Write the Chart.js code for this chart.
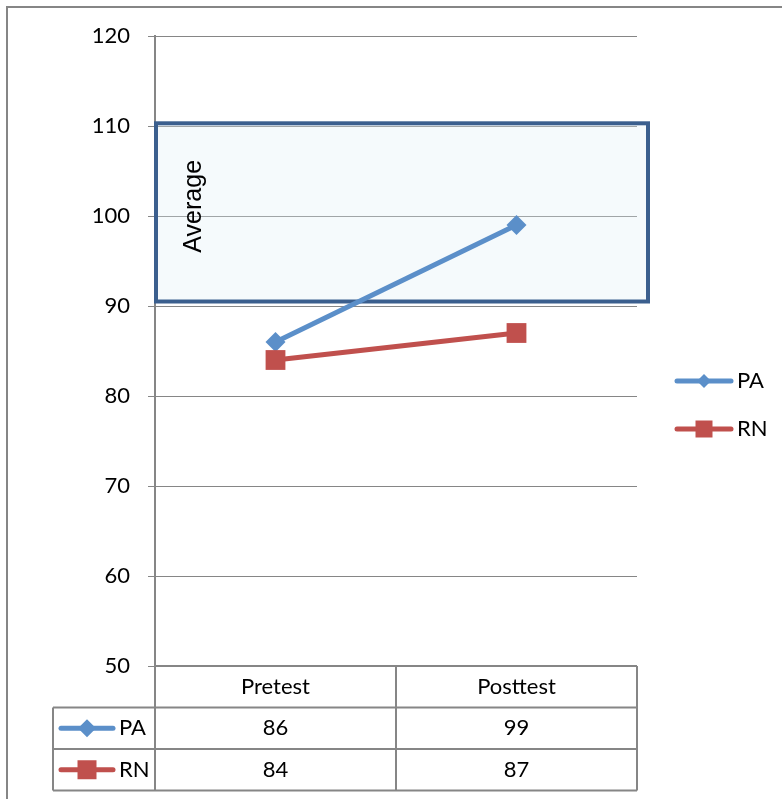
<!DOCTYPE html>
<html>
<head>
<meta charset="utf-8">
<script src="https://cdn.jsdelivr.net/npm/chart.js@4/dist/chart.umd.min.js"></script>
<style>
  html, body { margin: 0; padding: 0; background: #fff; }
  #wrap { width: 782px; height: 799px; }
</style>
</head>
<body>
<div id="wrap"><canvas id="grafico"></canvas></div>
<script>
// dados
const categorias = ['Pretest', 'Posttest'];
const series = ['PA', 'RN'];
const valoresPA = [86, 99];
const valoresRN = [84, 87];
const faixaMedia = [90.5, 110.3];   // caixa "Average"
const rotuloFaixa = 'Average';
const yMin = 50;
const yMax = 120;
const yPasso = 10;

const cores = {
  PA: '#5B8FC9',
  RN: '#C0504D',
  grade: '#868686',
  faixa: '#3B5F8E'
};
const fonteTexto = 'Lato, "Open Sans", sans-serif';

// desenha a chave (linha + marcador) da legenda e da tabela
function desenharChave(ctx, x0, x1, y, cor, estilo, tam) {
  ctx.save();
  ctx.strokeStyle = cor;
  ctx.fillStyle = cor;
  ctx.lineWidth = 5;
  ctx.lineCap = 'round';
  ctx.beginPath();
  ctx.moveTo(x0, y);
  ctx.lineTo(x1, y);
  ctx.stroke();
  const cx = (x0 + x1) / 2;
  ctx.beginPath();
  if (estilo === 'losango') {
    ctx.moveTo(cx, y - tam);
    ctx.lineTo(cx + tam, y);
    ctx.lineTo(cx, y + tam);
    ctx.lineTo(cx - tam, y);
    ctx.closePath();
  } else {
    ctx.rect(cx - tam / 2, y - tam / 2, tam, tam);
  }
  ctx.fill();
  ctx.restore();
}

// moldura cinza do gráfico
const moldura = {
  id: 'moldura',
  beforeDraw(chart) {
    const ctx = chart.ctx;
    ctx.save();
    ctx.strokeStyle = cores.grade;
    ctx.lineWidth = 2;
    ctx.beginPath();
    ctx.moveTo(7, chart.height);
    ctx.lineTo(7, 7);
    ctx.lineTo(chart.width, 7);
    ctx.stroke();
    ctx.restore();
  }
};

// caixa da faixa média
const caixaMedia = {
  id: 'caixaMedia',
  beforeDatasetsDraw(chart) {
    const ctx = chart.ctx;
    const y = chart.scales.y;
    const area = chart.chartArea;
    const topo = y.getPixelForValue(faixaMedia[1]);
    const base = y.getPixelForValue(faixaMedia[0]);
    const esq = area.left + 1;
    const dir = area.right + 11;
    ctx.save();
    ctx.fillStyle = 'rgba(222, 238, 246, 0.3)';
    ctx.fillRect(esq, topo, dir - esq, base - topo);
    ctx.strokeStyle = cores.faixa;
    ctx.lineWidth = 4;
    ctx.strokeRect(esq, topo, dir - esq, base - topo);
    ctx.translate(esq + 45, topo + 83);
    ctx.rotate(-Math.PI / 2);
    ctx.fillStyle = '#000';
    ctx.font = '25px "Liberation Sans", Arial, sans-serif';
    ctx.textAlign = 'center';
    ctx.textBaseline = 'alphabetic';
    ctx.fillText(rotuloFaixa, 0, 0);
    ctx.restore();
  }
};

// tabela de dados abaixo do eixo e legenda à direita
const tabelaDados = {
  id: 'tabelaDados',
  afterDraw(chart) {
    const ctx = chart.ctx;
    const x = chart.scales.x;
    const area = chart.chartArea;
    const alturaLinha = 41.5;
    const yCab = area.bottom;
    const yFim = yCab + alturaLinha * 3;
    const colChave = 53;
    const meio = (x.getPixelForValue(0) + x.getPixelForValue(1)) / 2;
    const valores = [valoresPA, valoresRN];
    const estilos = ['losango', 'quadrado'];

    ctx.save();
    ctx.strokeStyle = cores.grade;
    ctx.lineWidth = 2;
    ctx.beginPath();
    ctx.moveTo(area.left, yCab); ctx.lineTo(area.right, yCab);
    for (let i = 1; i <= 3; i++) {
      ctx.moveTo(colChave, yCab + alturaLinha * i);
      ctx.lineTo(area.right, yCab + alturaLinha * i);
    }
    ctx.moveTo(area.left, yCab); ctx.lineTo(area.left, yFim);
    ctx.moveTo(meio, yCab); ctx.lineTo(meio, yFim);
    ctx.moveTo(area.right, yCab); ctx.lineTo(area.right, yFim);
    ctx.moveTo(colChave, yCab + alturaLinha); ctx.lineTo(colChave, yFim);
    ctx.stroke();

    ctx.fillStyle = '#000';
    ctx.font = '22px ' + fonteTexto;
    ctx.textAlign = 'center';
    ctx.textBaseline = 'middle';
    categorias.forEach((c, i) => {
      ctx.fillText(c, x.getPixelForValue(i), yCab + alturaLinha / 2);
    });
    series.forEach((s, r) => {
      const yl = yCab + alturaLinha * (r + 1.5);
      valores[r].forEach((v, i) => {
        ctx.fillText(String(v), x.getPixelForValue(i), yl);
      });
    });
    ctx.textAlign = 'left';
    series.forEach((s, r) => {
      const yl = yCab + alturaLinha * (r + 1.5);
      desenharChave(ctx, 61, 113, yl, cores[s], estilos[r], estilos[r] === 'losango' ? 9 : 19);
      ctx.fillStyle = '#000';
      ctx.fillText(s, 119, yl);
    });

    // legenda
    const yLegenda = [381, 429];
    series.forEach((s, r) => {
      desenharChave(ctx, 677, 731, yLegenda[r], cores[s], estilos[r], estilos[r] === 'losango' ? 7 : 17);
      ctx.fillStyle = '#000';
      ctx.fillText(s, 737, yLegenda[r]);
    });
    ctx.restore();
  }
};

new Chart(document.getElementById('grafico'), {
  type: 'line',
  data: {
    labels: categorias,
    datasets: [
      {
        label: series[0],
        data: valoresPA,
        borderColor: cores.PA,
        backgroundColor: cores.PA,
        borderWidth: 5,
        pointStyle: 'rectRot',
        pointRadius: 10,
        pointBorderWidth: 0,
        order: 1
      },
      {
        label: series[1],
        data: valoresRN,
        borderColor: cores.RN,
        backgroundColor: cores.RN,
        borderWidth: 5,
        pointStyle: 'rect',
        pointRadius: 14,
        pointBorderWidth: 0,
        order: 0
      }
    ]
  },
  options: {
    responsive: true,
    maintainAspectRatio: false,
    animation: false,
    layout: {
      padding: { top: 36, right: 145, bottom: 133, left: 0 }
    },
    scales: {
      x: {
        display: false,
        offset: true
      },
      y: {
        min: yMin,
        max: yMax,
        afterFit: (s) => { s.width = 155; },
        ticks: {
          stepSize: yPasso,
          color: '#000',
          padding: 18,
          font: { family: fonteTexto, size: 22 }
        },
        grid: {
          color: cores.grade,
          lineWidth: 1,
          tickLength: 7
        },
        border: { color: cores.grade, width: 2 }
      }
    },
    plugins: {
      legend: { display: false },
      tooltip: { enabled: false },
      title: { display: false }
    }
  },
  plugins: [moldura, caixaMedia, tabelaDados]
});
</script>
</body>
</html>
